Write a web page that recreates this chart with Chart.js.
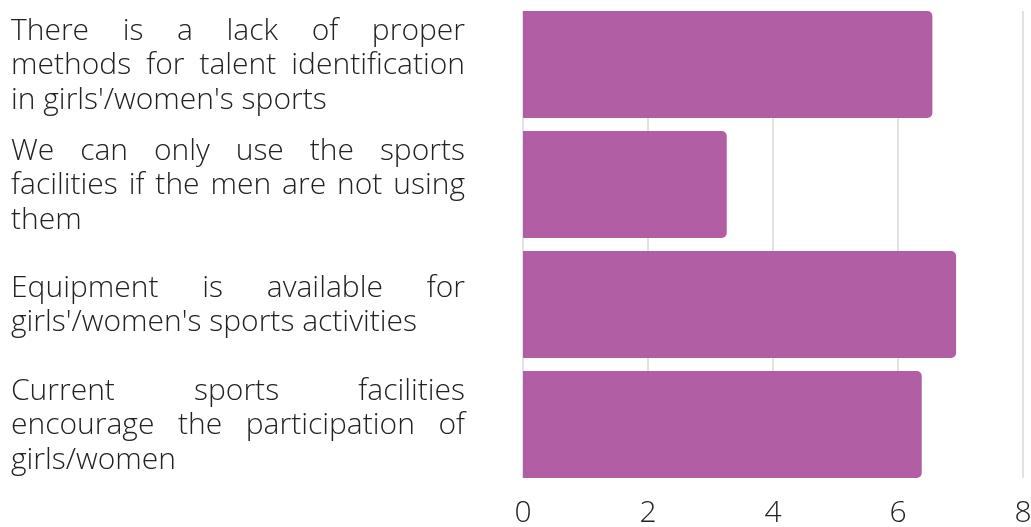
<!DOCTYPE html>
<html>
<head>
<meta charset="utf-8">
<script src="https://cdn.jsdelivr.net/npm/chart.js@4/dist/chart.umd.min.js"></script>
<style>
  html, body { margin: 0; padding: 0; background: #ffffff; }
  #wrap { width: 1031px; height: 527px; position: relative; }
</style>
</head>
<body>
<div id="wrap"><canvas id="c"></canvas></div>
<script>
// Statements (each one pre-broken into its printed lines)
const categories = [
  ["There is a lack of proper", "methods for talent identification", "in girls'/women's sports"],
  ["We can only use the sports", "facilities if the men are not using", "them"],
  ["Equipment is available for", "girls'/women's sports activities"],
  ["Current sports facilities", "encourage the participation of", "girls/women"]
];
// Mean score per statement
const values = [6.55, 3.26, 6.93, 6.38];
// Value-axis ticks
const xTicks = [0, 2, 4, 6, 8];

const FONT_FAMILY = "'Open Sans', 'Noto Sans', sans-serif";
const TEXT_COLOR = '#222222';

// Vertical guide lines, spanning from the first bar's top to the last bar's bottom
const guideLines = {
  id: 'guideLines',
  beforeDatasetsDraw(chart) {
    const meta = chart.getDatasetMeta(0);
    if (!meta.data.length) return;
    let top = Infinity, bottom = -Infinity;
    meta.data.forEach(bar => {
      top = Math.min(top, bar.y - bar.height / 2);
      bottom = Math.max(bottom, bar.y + bar.height / 2);
    });
    const xs = chart.scales.x;
    const ctx = chart.ctx;
    ctx.save();
    ctx.strokeStyle = '#c4c4c4';
    ctx.lineWidth = 1;
    xTicks.forEach(v => {
      const px = xs.getPixelForValue(v);
      ctx.beginPath();
      ctx.moveTo(px, top);
      ctx.lineTo(px, bottom);
      ctx.stroke();
    });
    ctx.restore();
  }
};

// Category labels drawn as a justified text block to the left of the plot
const justifiedLabels = {
  id: 'justifiedLabels',
  afterDraw(chart) {
    const ctx = chart.ctx;
    const ys = chart.scales.y;
    const left = 11, right = 465, lineHeight = 34.5, baselineShift = 9.5;
    ctx.save();
    ctx.font = "300 30px " + FONT_FAMILY;
    ctx.fillStyle = TEXT_COLOR;
    ctx.textAlign = 'left';
    ctx.textBaseline = 'alphabetic';
    categories.forEach((lines, i) => {
      const cy = ys.getPixelForValue(i);
      lines.forEach((line, j) => {
        const by = cy + (j - (lines.length - 1) / 2) * lineHeight + baselineShift;
        const words = line.split(' ');
        if (j === lines.length - 1 || words.length < 2) {
          ctx.fillText(line, left, by);
          return;
        }
        const widths = words.map(w => ctx.measureText(w).width);
        const total = widths.reduce((a, b) => a + b, 0);
        const gap = (right - left - total) / (words.length - 1);
        let x = left;
        words.forEach((w, k) => {
          ctx.fillText(w, x, by);
          x += widths[k] + gap;
        });
      });
    });
    ctx.restore();
  }
};

new Chart(document.getElementById('c'), {
  type: 'bar',
  data: {
    labels: categories,
    datasets: [{
      data: values,
      backgroundColor: '#b25ea4',
      borderWidth: 0,
      borderRadius: 5,
      borderSkipped: 'start',
      barPercentage: 0.89,
      categoryPercentage: 1.0
    }]
  },
  options: {
    indexAxis: 'y',
    responsive: true,
    maintainAspectRatio: false,
    devicePixelRatio: 1,
    animation: false,
    layout: { padding: { top: 4.5, right: 8, bottom: 0, left: 0 } },
    plugins: {
      legend: { display: false },
      tooltip: { enabled: false }
    },
    scales: {
      x: {
        type: 'linear',
        min: 0,
        max: 8,
        afterBuildTicks(scale) { scale.ticks = xTicks.map(v => ({ value: v })); },
        afterFit(scale) {
          scale.height = 42.5;
          scale.paddingLeft = 0;
          scale.paddingRight = 0;
        },
        grid: { display: false, drawTicks: false },
        border: { display: false },
        ticks: {
          color: TEXT_COLOR,
          padding: 11,
          maxRotation: 0,
          font: { family: FONT_FAMILY, size: 30, weight: 300 }
        }
      },
      y: {
        type: 'category',
        afterFit(scale) { scale.width = 523; },
        grid: { display: false },
        border: { display: false },
        ticks: { display: false }
      }
    }
  },
  plugins: [guideLines, justifiedLabels]
});
</script>
</body>
</html>
